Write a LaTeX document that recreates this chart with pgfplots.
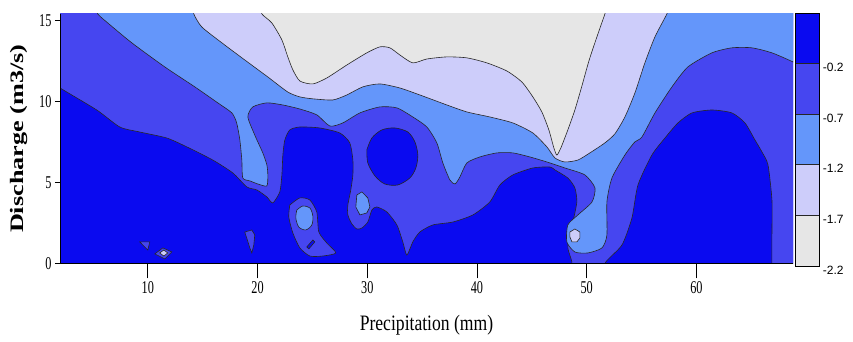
\documentclass[border=0pt]{standalone}
\usepackage{pgfplots}
\pgfplotsset{compat=1.18}
\usepackage{fontspec}
\setmainfont{Liberation Serif}
\newfontfamily\narrowserif[FakeStretch=0.68]{Liberation Serif}
\newfontfamily\xlabfont[FakeStretch=0.8]{Liberation Serif}
\newfontfamily\cbfont{Liberation Sans}
\definecolor{c1}{RGB}{10,10,240}
\definecolor{c2}{RGB}{70,70,240}
\definecolor{c3}{RGB}{100,150,250}
\definecolor{c4}{RGB}{205,205,250}
\definecolor{c5}{RGB}{230,230,230}
\begin{document}
\begin{tikzpicture}
\useasboundingbox (0,0) rectangle (853pt,342pt);
\begin{axis}[
  at={(60pt,78.7pt)}, anchor=south west,
  scale only axis, width=733pt, height=249.3pt,
  xmin=2, xmax=68.8, ymin=0, ymax=15.4,
  axis x line*=bottom, axis y line*=left,
  axis line style={-, black, line width=0.8pt},
  axis on top,
  xtick={10,20,30,40,50,60}, ytick=\empty,
  tick align=outside,
  major tick length=15pt,
  x tick style={black, line width=0.8pt},
  tick label style={font=\narrowserif\fontsize{18}{18}\selectfont},
  /pgf/number format/assume math mode=true,
  xlabel={\xlabfont\fontsize{22}{22}\selectfont Precipitation (mm)},
  xlabel style={at={(axis description cs:0.5,-0.2475)}, anchor=center},
  every axis plot/.append style={draw=black!85, line width=0.6pt, mark=none},
]
% background: highest class
\addplot[fill=c1, draw=none] coordinates {(1,-1) (70,-1) (70,16) (1,16)} -- cycle;
% level <= -0.2
\addplot[fill=c2, smooth, tension=0.4] coordinates {
(1,16) (1,11.3) (2,10.83) (5.35,9.47) (7.45,8.42) (9.27,8.11) (11.73,7.74) (13.56,7.19) (15.92,6.38) (17.75,5.58) (19.02,4.72) (19.94,4.53) (20.85,4.1) (21.39,3.73) (22.03,4.41) (22.22,5.46) (22.31,6.69) (22.49,7.62) (22.94,8.24) (23.86,8.42) (25.68,8.36) (27.5,8.05) (28.41,7.44) (28.69,6.38) (28.69,5.46) (28.5,4.53) (28.23,3.6) (28.23,2.99) (28.6,2.43) (29.05,2.12) (29.51,2.18) (30.05,2.55) (30.42,3.29) (30.87,3.48) (31.79,3.17) (32.7,2.37) (33.24,1.32) (33.61,0.51) (34.15,1.32) (34.79,1.93) (35.98,2.37) (37.8,2.55) (39.63,2.99) (41.17,3.79) (42.09,4.84) (43.27,5.46) (45.09,5.89) (46.64,5.95) (47.1,5.77) (48.28,5.27) (48.92,4.66) (49.1,3.79) (48.74,2.55) (48.47,1.75) (48.28,0.95) (48.65,0.08) (48.75,-1) (51.8,-1) (51.66,0) (53.21,1.13) (54.12,2.8) (54.67,4.84) (55.94,6.69) (57.13,7.74) (58.31,8.67) (59.59,9.29) (61.41,9.47) (63.23,9.29) (64.42,8.67) (65.33,7.62) (65.97,6.88) (66.52,6.08) (66.88,3.91) (66.88,1.75) (66.88,0) (66.88,-1) (70,-1) (70,16)
} -- cycle;
% level <= -0.7
\addplot[fill=c3, smooth, tension=0.4] coordinates {
(5.3,16) (5.44,15.41) (6.35,14.85) (8.54,13.62) (11.55,12.13) (14.28,10.9) (16.38,9.91) (17.66,9.29) (18.1,8.67) (18.39,7.62) (18.57,6.38) (18.66,5.27) (19.3,5.09) (20.03,4.9) (20.85,4.78) (20.94,5.46) (20.85,6.08) (20.48,6.82) (19.75,7.92) (19.12,9.04) (19.57,9.66) (20.85,9.91) (22.31,9.78) (23.86,9.53) (25.4,9.17) (26.59,8.48) (27.77,8.67) (29.33,9.29) (31.15,9.66) (32.7,9.6) (34.15,9.04) (35.43,8.42) (36.34,7.44) (36.89,6.2) (37.53,5.15) (38.0,4.9) (38.44,5.33) (39.08,6.2) (40.26,6.57) (41.81,6.82) (43.27,6.82) (44.82,6.57) (46.37,6.26) (48.01,5.89) (49.83,5.46) (50.75,4.66) (50.48,3.79) (49.2,2.99) (48.28,2.37) (48.19,1.32) (48.92,0.7) (50.11,0.64) (51.39,0.95) (51.84,1.75) (51.84,3.79) (52.3,5.27) (53.48,6.69) (54.39,7.5) (55.03,7.8) (56.22,9.29) (57.77,10.9) (59.22,12.13) (61.41,13.0) (63.23,13.31) (65.06,13.31) (66.88,13.0) (68.8,12.44) (70,12.0) (70,16)
} -- cycle;
% level <= -1.2
\addplot[fill=c4, smooth, tension=0.4] coordinates {
(14.1,16) (14.19,15.41) (14.92,14.6) (16.75,13.62) (18.84,12.56) (20.94,11.51) (22.76,10.58) (23.86,10.28) (25.04,10.16) (26.86,10.09) (28.14,10.4) (29.6,10.9) (31.15,11.08) (32.97,10.83) (34.79,10.4) (37.26,9.78) (39.08,9.35) (41.17,9.04) (43.27,8.67) (45.09,8.05) (46.37,7.19) (47.1,6.51) (48.01,6.26) (49.2,6.38) (50.29,6.82) (51.66,7.44) (52.57,8.0) (53.48,9.04) (54.39,10.52) (55.3,12.38) (56.22,13.99) (57.31,15.41) (57.6,16)
} -- cycle;
% level <= -1.7
\addplot[fill=c5, smooth, tension=0.4] coordinates {
(20.3,16) (20.39,15.41) (21.3,14.85) (22.22,13.8) (22.76,12.75) (23.22,11.95) (23.86,11.26) (25.04,11.08) (26.32,11.45) (28.14,12.25) (29.96,13.0) (31.15,13.37) (32.06,13.31) (32.97,12.87) (34.15,12.38) (35.43,12.62) (37.26,12.75) (39.08,12.69) (40.9,12.38) (42.72,11.88) (44.09,11.2) (45.09,10.28) (45.91,9.35) (46.55,8.24) (47.01,7.12) (47.28,6.69) (47.64,7.12) (48.28,8.24) (48.92,9.47) (49.56,10.95) (50.2,12.5) (50.93,13.99) (51.66,15.41) (51.9,16)
} -- cycle;
% islands
\addplot[fill=c1, smooth, tension=0.5] coordinates {
(29.96,7.0) (30.42,7.74) (31.33,8.24) (32.51,8.36) (33.7,8.11) (34.34,7.5) (34.61,6.69) (34.43,5.89) (33.88,5.27) (32.79,4.84) (31.6,4.9) (30.7,5.4) (30.05,6.2) (29.96,7.0)
} -- cycle;
\addplot[fill=c2, smooth, tension=0.4] coordinates {
(22.94,3.6) (23.86,4.04) (24.77,3.91) (25.4,3.17) (25.59,1.93) (26.32,1.25) (27.14,0.64) (25.95,0.45) (24.77,0.45) (23.86,0.95) (23.22,1.87) (22.85,2.86) (22.94,3.6)
} -- cycle;
\addplot[fill=c3, smooth, tension=0.5] coordinates {
(23.58,3.29) (24.13,3.54) (24.77,3.42) (25.04,2.92) (24.95,2.37) (24.4,2.06) (23.76,2.24) (23.49,2.8) (23.58,3.29)
} -- cycle;
\addplot[fill=c1] coordinates {(24.49,1.01) (25.04,1.44) (25.22,1.32) (24.68,0.89)} -- cycle;
\addplot[fill=c3] coordinates {
(29.05,4.22) (29.51,4.41) (30.05,4.04) (30.24,3.48) (29.96,3.11) (29.33,2.99) (28.96,3.48)
} -- cycle;
\addplot[fill=c4] coordinates {
(48.47,1.93) (48.92,2.12) (49.38,1.93) (49.38,1.56) (49.1,1.32) (48.65,1.32) (48.47,1.63)
} -- cycle;
\addplot[fill=c2] coordinates {(9.27,1.32) (10.18,1.32) (10.0,0.82)} -- cycle;
\addplot[fill=c2] coordinates {(10.64,0.58) (11.37,0.95) (12.19,0.7) (11.55,0.27)} -- cycle;
\addplot[fill=c4] coordinates {(11.09,0.64) (11.46,0.82) (11.82,0.64) (11.46,0.45)} -- cycle;
\addplot[fill=c2] coordinates {
(18.84,1.93) (19.48,2.06) (19.75,1.75) (19.66,1.13) (19.48,0.64) (19.3,0.95) (19.02,1.56)
} -- cycle;
\end{axis}
% y axis ticks and label (same box)
\begin{axis}[
  at={(60pt,78.7pt)}, anchor=south west,
  scale only axis, width=733pt, height=249.3pt,
  xmin=2, xmax=68.8, ymin=0, ymax=15.4,
  axis y line*=left, axis x line=none,
  axis line style={-, black, line width=0.8pt},
  xtick=\empty, ytick={0,5,10,15},
  tick align=outside,
  major tick length=5pt,
  y tick style={black, line width=0.8pt},
  tick label style={font=\narrowserif\fontsize{18}{18}\selectfont},
  /pgf/number format/assume math mode=true,
  ylabel={\scalebox{1.38}[1]{\bfseries\fontsize{19}{19}\selectfont Discharge (m3/s)}},
  ylabel style={at={(axis description cs:-0.0553,0.5)}, anchor=center},
]
\end{axis}
% colour scale
\begin{axis}[
  at={(795.7pt,76pt)}, anchor=south west,
  scale only axis, width=23.6pt, height=253pt,
  xmin=0, xmax=1, ymin=-2.2, ymax=0.3,
  xtick=\empty,
  ytick={-2.2,-1.7,-1.2,-0.7,-0.2},
  yticklabels={-2.2,-1.7,-1.2,-0.7,-0.2},
  yticklabel pos=right,
  major tick length=0pt,
  yticklabel style={font=\cbfont\fontsize{12}{12}\selectfont, anchor=west, yshift=-4pt},
  axis line style={black, line width=0.8pt},
  axis on top,
  every axis plot/.append style={draw=black!85, line width=0.6pt, mark=none},
]
\addplot[fill=c5] coordinates {(0,-2.2) (1,-2.2) (1,-1.7) (0,-1.7)} -- cycle;
\addplot[fill=c4] coordinates {(0,-1.7) (1,-1.7) (1,-1.2) (0,-1.2)} -- cycle;
\addplot[fill=c3] coordinates {(0,-1.2) (1,-1.2) (1,-0.7) (0,-0.7)} -- cycle;
\addplot[fill=c2] coordinates {(0,-0.7) (1,-0.7) (1,-0.2) (0,-0.2)} -- cycle;
\addplot[fill=c1] coordinates {(0,-0.2) (1,-0.2) (1,0.3) (0,0.3)} -- cycle;
\end{axis}
\end{tikzpicture}
\end{document}
